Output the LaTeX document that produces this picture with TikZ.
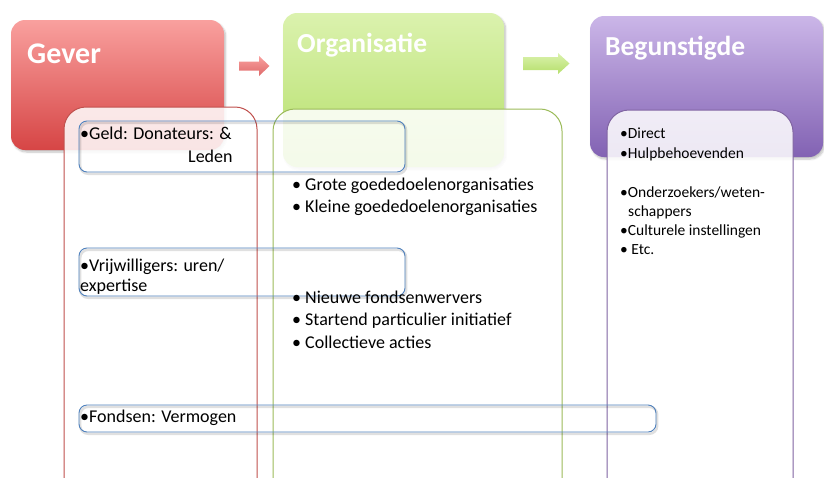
\documentclass[tikz,border=0pt]{standalone}
\usepackage{fontspec}
\setmainfont{Carlito}
\usetikzlibrary{shadows.blur}

\definecolor{redtop}{HTML}{F9A09E}
\definecolor{redbot}{HTML}{D64545}
\definecolor{greentop}{HTML}{DBF2AE}
\definecolor{greenbot}{HTML}{B5DF6A}
\definecolor{purtop}{HTML}{CBB6E8}
\definecolor{purbot}{HTML}{8262B3}
\definecolor{redline}{HTML}{C0504D}
\definecolor{greenline}{HTML}{9BBB59}
\definecolor{purline}{HTML}{8064A2}
\definecolor{blueline}{HTML}{4F81BD}

\tikzset{
  headbox/.style={rounded corners=14pt, blur shadow={shadow blur steps=6, shadow xshift=1.5pt, shadow yshift=-2pt, shadow opacity=25}},
  headtext/.style={anchor=base west, text=white, font=\bfseries\fontsize{27.5}{32}\selectfont, inner sep=0pt},
  panel/.style={rounded corners=22pt, line width=1pt, fill=white, fill opacity=0.86},
  itembox/.style={rounded corners=8pt, draw=blueline, line width=0.9pt},
  itemshadow/.style={rounded corners=8pt, draw=black, draw opacity=0.12, line width=2.5pt, shift={(1.2,1.8)}},
  item/.style={anchor=base west, inner sep=0pt, text=black, font=\fontsize{18}{21}\selectfont},
  smallitem/.style={anchor=base west, inner sep=0pt, text=black, font=\fontsize{15.5}{18}\selectfont}
}

\begin{document}
\begin{tikzpicture}[x=1pt,y=-1pt]
\useasboundingbox (0,0) rectangle (824,477);
\clip (0,0) rectangle (824,477);

% column headers
\shade[headbox, top color=redtop, bottom color=redbot] (11,20) rectangle (224,150);
\shade[headbox, top color=greentop, bottom color=greenbot] (283,13) rectangle (504,167);
\shade[headbox, top color=purtop, bottom color=purbot] (590,16) rectangle (823,157);

\node[headtext, font=\bfseries\fontsize{30}{34}\selectfont] (gever) at (27,63) {Gever};
\node[headtext] (org) at (297,52.5) {Organisatie};
\node[headtext] (beg) at (605,55) {Begunstigde};

% block arrows between the headers
\shade[top color=redtop, bottom color=redbot!80!white]
  (239,61.5) -- (259,61.5) -- (259,56) -- (269.5,66) -- (259,76) -- (259,70.5) -- (239,70.5) -- cycle;
\shade[top color=greentop, bottom color=greenbot]
  (523,57) -- (558,57) -- (558,53) -- (569.5,63.5) -- (558,74) -- (558,70) -- (523,70) -- cycle;

% column panels
\draw[panel, draw=redline] (64,107) rectangle (257,520);
\draw[panel, draw=greenline] (273,109) rectangle (562,520);
\draw[panel, draw=purline] (607,110) rectangle (793,520);

% resource boxes spanning the columns
\draw[itemshadow] (79,121) rectangle (405,172);
\draw[itemshadow] (79,248) rectangle (405,296);
\draw[itemshadow] (79,405) rectangle (656,432);
\draw[itembox] (79,121) rectangle (405,172);
\draw[itembox] (79,248) rectangle (405,296);
\draw[itembox] (79,405) rectangle (656,432);

% giver column
\node[item] (geld) at (80,139) {•Geld: Donateurs: \&};
\node[item] (leden) at (188,162) {Leden};
\node[item] (vrij) at (80,271) {•Vrijwilligers: uren/};
\node[item] (exp) at (80,291) {expertise};
\node[item] (fonds) at (80,422) {•Fondsen: Vermogen};

% organisation column
\node[item] (grote) at (292,190) {• Grote goededoelenorganisaties};
\node[item] (kleine) at (292,212) {• Kleine goededoelenorganisaties};
\node[item] (nieuw) at (292,303) {• Nieuwe fondsenwervers};
\node[item] (start) at (292,325) {• Startend particulier initiatief};
\node[item] (coll) at (292,348) {• Collectieve acties};

% beneficiary column
\node[smallitem] (direct) at (620,138) {•Direct};
\node[smallitem] (hulp) at (620,158) {•Hulpbehoevenden};
\node[smallitem] (onder) at (620,197) {•Onderzoekers/weten-};
\node[smallitem] (schap) at (628,216) {schappers};
\node[smallitem] (cult) at (620,235) {•Culturele instellingen};
\node[smallitem] (etc) at (620,254) {• Etc.};
\end{tikzpicture}
\end{document}
